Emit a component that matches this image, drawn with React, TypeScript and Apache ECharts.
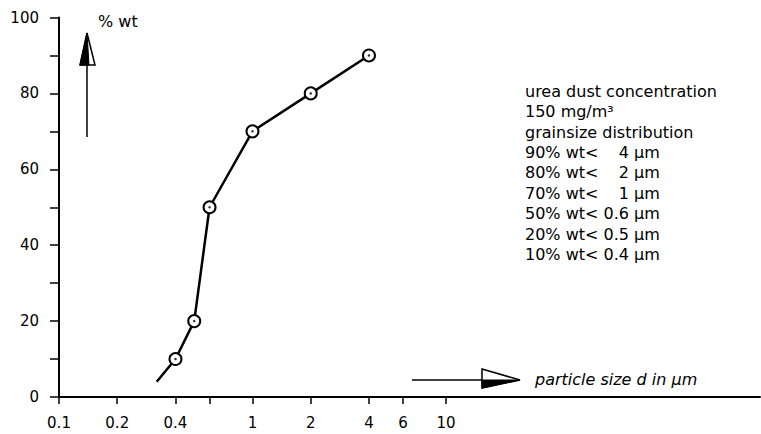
import React, { useEffect, useRef } from "react";
import * as echarts from "echarts";

// Data
const particleSize = [0.32, 0.4, 0.5, 0.6, 1, 2, 4];
const percentWt = [4, 10, 20, 50, 70, 80, 90];

// Axis ticks / labels
const xTickValues = [0.1, 0.2, 0.4, 0.6, 1, 2, 4, 6, 10];
const xLabelValues = [0.1, 0.2, 0.4, 1, 2, 4, 6, 10];
const xLabelTexts = ["0.1", "0.2", "0.4", "1", "2", "4", "6", "10"];
const yLabelValues = [0, 20, 40, 60, 80, 100];
const xMin = 0.1;
const xMax = 420;
const yMin = 0;
const yMax = 100;

const yTitle = "% wt";
const xTitle = "particle size d in µm";
const infoLines = [
  "urea dust concentration",
  "150 mg/m³",
  "grainsize distribution",
  "90% wt<\u00a0\u00a0\u00a0\u00a04 µm",
  "80% wt<\u00a0\u00a0\u00a0\u00a02 µm",
  "70% wt<\u00a0\u00a0\u00a0\u00a01 µm",
  "50% wt< 0.6 µm",
  "20% wt< 0.5 µm",
  "10% wt< 0.4 µm",
];

const FONT = "DejaVu Sans";

export default function App() {
  const ref = useRef<HTMLDivElement>(null);

  useEffect(() => {
    if (!ref.current) return;
    const chart = echarts.init(ref.current, null, { renderer: "svg" });
    const lg = (v: number) => Math.log10(v);

    const lineData = particleSize.map((x, i) =>
      i === 0
        ? { value: [x, percentWt[i]], symbol: "none" }
        : { value: [x, percentWt[i]] }
    );
    const dotData = particleSize.slice(1).map((x, i) => [x, percentWt[i + 1]]);

    chart.setOption({
      animation: false,
      backgroundColor: "#ffffff",
      grid: {
        left: 59,
        right: 1,
        top: 17.5,
        bottom: 37,
        containLabel: false,
        outerBoundsMode: "none",
      },
      xAxis: [
        {
          type: "log",
          min: xMin,
          max: xMax,
          show: false,
        },
        {
          type: "value",
          min: lg(xMin),
          max: lg(xMax),
          position: "bottom",
          splitLine: { show: false },
          axisLine: {
            show: true,
            onZero: false,
            lineStyle: { color: "#000", width: 2 },
          },
          axisTick: {
            show: true,
            customValues: xTickValues.map(lg),
            length: 7,
            lineStyle: { color: "#000", width: 1.5 },
          },
          axisLabel: {
            customValues: xLabelValues.map(lg),
            margin: 18,
            color: "#000",
            fontFamily: FONT,
            fontSize: 15,
            formatter: (v: number) => {
              const idx = xLabelValues.findIndex(
                (t) => Math.abs(lg(t) - v) < 1e-6
              );
              return idx >= 0 ? xLabelTexts[idx] : "";
            },
          },
        },
      ],
      yAxis: {
        type: "value",
        min: yMin,
        max: yMax,
        interval: 10,
        position: "left",
        splitLine: { show: false },
        axisLine: {
          show: true,
          onZero: false,
          lineStyle: { color: "#000", width: 2 },
        },
        axisTick: {
          show: true,
          length: 9,
          lineStyle: { color: "#000", width: 1.5 },
        },
        axisLabel: {
          customValues: yLabelValues,
          margin: 20,
          color: "#000",
          fontFamily: FONT,
          fontSize: 15,
          padding: [5, 0, 0, 0],
        },
      },
      series: [
        {
          type: "line",
          xAxisIndex: 0,
          data: lineData,
          symbol: "circle",
          symbolSize: 12,
          itemStyle: { color: "#fff", borderColor: "#000", borderWidth: 2 },
          lineStyle: { color: "#000", width: 2.5 },
          z: 3,
        },
        {
          type: "scatter",
          xAxisIndex: 0,
          data: dotData,
          symbol: "circle",
          symbolSize: 2.5,
          itemStyle: { color: "#000" },
          z: 5,
        },
      ],
      graphic: [
        // % wt arrow
        {
          type: "line",
          shape: { x1: 87, y1: 137, x2: 87, y2: 62 },
          style: { stroke: "#000", lineWidth: 1.5 },
        },
        {
          type: "polygon",
          shape: { points: [[80, 65], [87, 33], [95, 65]] },
          style: { fill: "#fff", stroke: "#000", lineWidth: 1.5 },
        },
        {
          type: "polygon",
          shape: { points: [[80, 65], [87, 33], [89, 65]] },
          style: { fill: "#000", stroke: "#000", lineWidth: 1 },
        },
        {
          type: "text",
          left: 98,
          top: 13,
          style: { text: yTitle, fontFamily: FONT, fontSize: 16, fill: "#000" },
        },
        // particle size arrow
        {
          type: "line",
          shape: { x1: 412, y1: 380, x2: 495, y2: 380 },
          style: { stroke: "#000", lineWidth: 1.5 },
        },
        {
          type: "polygon",
          shape: { points: [[482, 369], [520, 380], [482, 388]] },
          style: { fill: "#fff", stroke: "#000", lineWidth: 1.5 },
        },
        {
          type: "polygon",
          shape: { points: [[482, 380], [520, 380], [482, 388]] },
          style: { fill: "#000", stroke: "#000", lineWidth: 1 },
        },
        {
          type: "text",
          left: 535,
          top: 371,
          style: {
            text: xTitle,
            fontFamily: FONT,
            fontSize: 16,
            fontStyle: "italic",
            fill: "#000",
          },
        },
        // info block
        {
          type: "text",
          left: 525,
          top: 81,
          style: {
            text: infoLines.join("\n"),
            fontFamily: FONT,
            fontSize: 16,
            lineHeight: 20.4,
            fill: "#000",
          },
        },
      ],
    });

    return () => chart.dispose();
  }, []);

  return (
    <div
      ref={ref}
      style={{ position: "fixed", left: 0, top: 0, width: 761, height: 434 }}
    />
  );
}
